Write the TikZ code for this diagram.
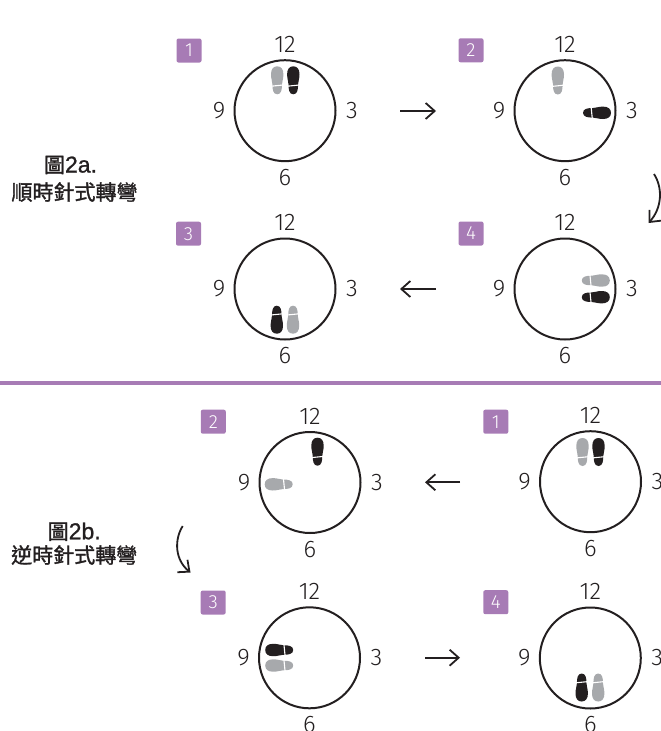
\documentclass[tikz,border=0pt]{standalone}
\usepackage{fontspec}
\newfontfamily\numfont{Fira Sans Light}
\newfontfamily\cjk[FakeBold=1.5]{Noto Sans CJK TC}
\newfontfamily\latf[FakeBold=1]{Liberation Sans}
\usetikzlibrary{arrows.meta}
\definecolor{ink}{HTML}{231F20}
\definecolor{solegray}{HTML}{A7A9AC}
\definecolor{purp}{HTML}{A77BB5}
\tikzset{
  clock/.style={circle, draw=ink, line width=2pt, minimum size=101pt, inner sep=0pt},
  hour/.style={font=\numfont\fontsize{24}{24}\selectfont, text=ink, inner sep=0pt},
  badge/.style={fill=purp, rounded corners=2pt, minimum width=25pt, minimum height=24pt, inner sep=0pt, text=white, font=\numfont\fontsize{19}{19}\selectfont},
  arr/.style={draw=ink, line width=1.8pt, -{Straight Barb[length=9pt,width=16pt]}},
  title/.style={font=\cjk\fontsize{21}{21}\selectfont, text=ink, inner sep=0pt},
  sole/.pic={
    \fill[#1] (0,-14) .. controls (4,-14) and (6.2,-11) .. (6.2,-6)
      .. controls (6.2,-1) and (4.8,1) .. (4.8,4)
      .. controls (4.8,9) and (4.2,14) .. (0,14)
      .. controls (-4.2,14) and (-4.8,9) .. (-4.8,4)
      .. controls (-4.8,1) and (-6.2,-1) .. (-6.2,-6)
      .. controls (-6.2,-11) and (-4,-14) .. (0,-14) -- cycle;
    \draw[white, line width=1.1pt] (-7,6) -- (7,4.6);
  }
}
\newcommand\mkclock[6]{%
  \node[clock] (#1) at (#2,#3) {};
  \node[hour] (#1-12) at (#2,{#3-66.5}) {12};
  \node[hour] (#1-6) at (#2,{#3+67}) {6};
  \node[hour] (#1-9) at ({#2-66},#3) {9};
  \node[hour] (#1-3) at ({#2+67},#3) {3};
  \node[badge] (#1-b) at (#4,#5) {#6};
}
\begin{document}
\begin{tikzpicture}[x=1pt,y=-1pt]
\useasboundingbox (0,0) rectangle (661,731);
% titles
\node[title] (t1a) at (70.5,165) {圖{\latf\fontsize{23}{23}\selectfont 2a.}};
\node[title] (t1b) at (74.5,192) {順時針式轉彎};
\node[title] (t2a) at (74.2,531.7) {圖{\latf\fontsize{23}{23}\selectfont 2b.}};
\node[title] (t2b) at (74.2,555) {逆時針式轉彎};
% separator
\coordinate (sepL) at (0,383);
\coordinate (sepR) at (661,383);
\draw[purp, line width=3.3pt] (sepL) -- (sepR);
% clocks
\mkclock{c1a}{285}{110.7}{189}{50.5}{1}
\mkclock{c2a}{565}{110.7}{471}{50.3}{2}
\mkclock{c3a}{285}{289}{188.5}{233.7}{3}
\mkclock{c4a}{565}{289}{471}{233.5}{4}
\mkclock{c1b}{590.5}{481.7}{495.8}{421.7}{1}
\mkclock{c2b}{310}{482.5}{213.3}{421.7}{2}
\mkclock{c3b}{309.5}{657.8}{213.2}{602.5}{3}
\mkclock{c4b}{590.3}{658}{495.8}{602.2}{4}
% footprints
\pic at (277.2,80.3) {sole=solegray};
\pic at (293.3,80.3) {sole=ink};
\pic at (557.8,80.5) {sole=solegray};
\pic[rotate=-90] at (597,112.8) {sole=ink};
\pic[rotate=180] at (276.8,319.7) {sole=ink};
\pic[rotate=180] at (293,319.7) {sole=solegray};
\pic[rotate=-90] at (595.8,280.5) {sole=solegray};
\pic[rotate=-90] at (595.8,297.2) {sole=ink};
\pic at (582.5,452) {sole=solegray};
\pic at (598.5,452) {sole=ink};
\pic at (317.5,451.7) {sole=ink};
\pic[rotate=90] at (278.7,484.3) {sole=solegray};
\pic[rotate=90] at (279.2,650) {sole=ink};
\pic[rotate=90] at (279.2,665.5) {sole=solegray};
\pic[rotate=180] at (581.7,687.5) {sole=ink};
\pic[rotate=180] at (598.2,687.5) {sole=solegray};
% arrows
\coordinate (a1s) at (400,111); \coordinate (a1e) at (436,111);
\coordinate (a2s) at (436,289); \coordinate (a2e) at (400,289);
\coordinate (a3s) at (460,482.3); \coordinate (a3e) at (425,482.3);
\coordinate (a4s) at (425,657.7); \coordinate (a4e) at (460,657.7);
\draw[arr] (a1s) -- (a1e);
\draw[arr] (a2s) -- (a2e);
\draw[arr] (a3s) -- (a3e);
\draw[arr] (a4s) -- (a4e);
\coordinate (cas) at (654,174); \coordinate (cae) at (648.5,223);
\draw[arr] (cas) .. controls (663,188) and (662,208) .. (cae);
\coordinate (cbs) at (182.7,526); \coordinate (cbe) at (190.5,572.5);
\draw[arr] (cbs) .. controls (174,540) and (175,560) .. (cbe);
\end{tikzpicture}
\end{document}
